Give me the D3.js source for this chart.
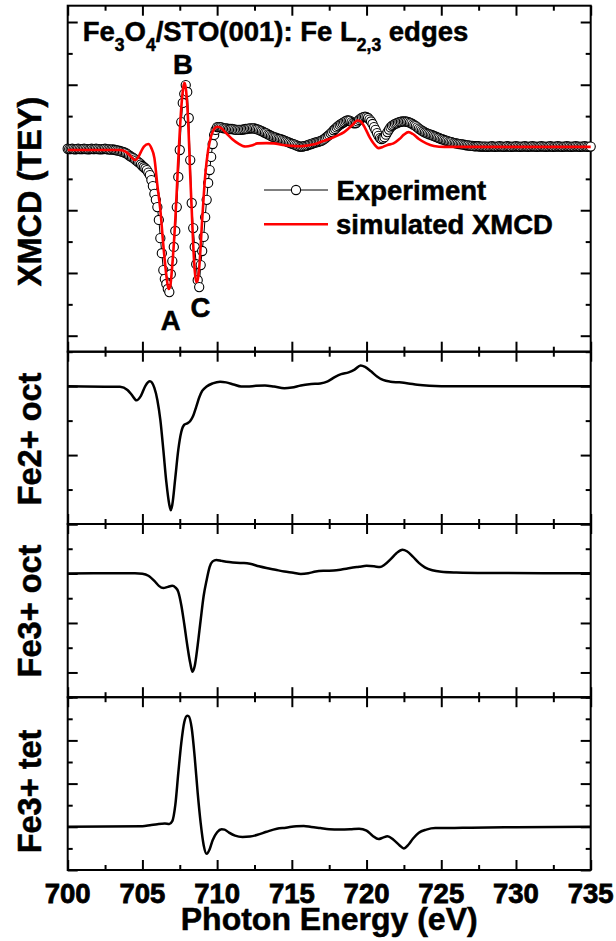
<!DOCTYPE html>
<html>
<head>
<meta charset="utf-8">
<script src="https://cdn.jsdelivr.net/npm/d3@7"></script>
<style>
  body { margin: 0; background: #fff; }
  text { font-family: "Liberation Sans", Arial, Helvetica, sans-serif; font-weight: bold; fill: #000;
         stroke: #000; stroke-width: 0.5px; paint-order: stroke; }
</style>
</head>
<body>
<svg id="chart" width="616" height="941"></svg>
<script>
// ---- data ----------------------------------------------------------------
const energyDomain = [700, 735];
const energyTicks = [700, 705, 710, 715, 720, 725, 730, 735];
const energyMinorTicks = [702.5, 707.5, 712.5, 717.5, 722.5, 727.5, 732.5];

// measured XMCD (TEY), one point every 0.1 eV from 700 eV
const expStart = 700;
const expStep = 0.1;
const expXMCD = [
  -0.04,-0.05,-0.05,-0.04,-0.05,-0.06,-0.05,-0.04,-0.05,-0.05,
  -0.05,-0.04,-0.05,-0.05,-0.06,-0.05,-0.04,-0.05,-0.05,-0.04,
  -0.05,-0.05,-0.06,-0.05,-0.05,-0.04,-0.05,-0.06,-0.06,-0.07,
  -0.06,-0.07,-0.08,-0.09,-0.10,-0.11,-0.13,-0.14,-0.16,-0.18,
  -0.21,-0.25,-0.28,-0.31,-0.34,-0.38,-0.42,-0.46,-0.49,-0.54,
  -0.59,-0.63,-0.67,-0.72,-0.80,-0.88,-1.04,-1.23,-1.48,-1.67,
  -1.90,-2.31,-2.89,-3.37,-3.91,-4.19,-4.35,-4.51,-4.61,-4.04,
  -3.62,-3.17,-2.66,-1.90,-0.94,-0.08,0.81,1.42,1.71,1.99,
  1.77,0.94,-0.40,-1.77,-2.57,-3.17,-3.72,-4.23,-4.45,-3.75,
  -3.30,-2.85,-2.22,-1.67,-1.13,-0.72,-0.30,0.11,0.40,0.56,
  0.65,0.65,0.65,0.64,0.62,0.61,0.61,0.60,0.59,0.59,
  0.59,0.58,0.57,0.56,0.56,0.56,0.56,0.57,0.58,0.59,
  0.59,0.60,0.61,0.61,0.61,0.61,0.59,0.58,0.56,0.54,
  0.52,0.49,0.47,0.45,0.42,0.40,0.37,0.35,0.33,0.32,
  0.30,0.28,0.27,0.26,0.24,0.22,0.20,0.18,0.16,0.14,
  0.12,0.11,0.09,0.07,0.05,0.03,0.03,0.03,0.04,0.05,
  0.06,0.08,0.10,0.11,0.13,0.15,0.16,0.17,0.19,0.20,
  0.22,0.25,0.28,0.32,0.36,0.40,0.45,0.49,0.55,0.59,
  0.64,0.68,0.72,0.75,0.78,0.81,0.84,0.86,0.86,0.85,
  0.81,0.78,0.77,0.78,0.83,0.88,0.92,0.95,0.97,0.98,
  0.97,0.94,0.89,0.83,0.75,0.65,0.56,0.46,0.37,0.30,
  0.27,0.29,0.33,0.41,0.49,0.57,0.64,0.69,0.72,0.75,
  0.77,0.79,0.81,0.82,0.83,0.83,0.83,0.82,0.81,0.79,
  0.77,0.74,0.71,0.68,0.64,0.60,0.57,0.54,0.51,0.48,
  0.46,0.44,0.42,0.41,0.39,0.37,0.35,0.33,0.31,0.29,
  0.27,0.26,0.24,0.22,0.21,0.19,0.18,0.17,0.15,0.14,
  0.13,0.12,0.11,0.11,0.10,0.09,0.08,0.07,0.07,0.06,
  0.05,0.05,0.04,0.04,0.04,0.04,0.03,0.03,0.03,0.03,
  0.03,0.02,0.03,0.03,0.04,0.03,0.02,0.03,0.03,0.04,
  0.03,0.03,0.02,0.03,0.04,0.03,0.03,0.02,0.03,0.03,
  0.04,0.03,0.03,0.02,0.03,0.03,0.04,0.03,0.02,0.03,
  0.03,0.04,0.03,0.03,0.02,0.03,0.03,0.04,0.03,0.03,
  0.02,0.03,0.03,0.04,0.03,0.02,0.03,0.03,0.04,0.03,
  0.03,0.02,0.03,0.03,0.04,0.03,0.03,0.02,0.03,0.03,
  0.04,0.03,0.03,0.02,0.03,0.03,0.04,0.03,0.02,0.03,
  0.03
];

// simulated XMCD, [energy (eV), intensity]
const simXMCD = [
  [700,-0.08],[703.5,-0.08],[703.9,-0.14],[704.2,-0.27],[704.5,-0.40],[704.7,-0.33],
  [704.9,-0.14],[705.1,0.03],[705.4,0.11],[705.6,-0.02],[705.8,-0.33],[706.0,-1.20],
  [706.2,-1.99],[706.4,-3.11],[706.6,-4.07],[706.75,-4.51],[706.85,-4.45],[707.0,-3.75],
  [707.2,-2.31],[707.4,-0.40],[707.6,1.26],[707.75,1.96],[707.82,2.06],[707.9,1.90],
  [708.0,1.36],[708.1,0.40],[708.2,-0.88],[708.3,-1.99],[708.4,-3.11],[708.5,-3.91],
  [708.6,-4.29],[708.68,-4.26],[708.8,-3.84],[709.0,-2.31],[709.2,-0.91],[709.4,-0.08],
  [709.6,0.37],[709.8,0.59],[710.0,0.66],[710.2,0.64],[710.6,0.46],[711.0,0.27],
  [711.4,0.13],[711.9,0.03],[712.3,0.06],[712.7,0.13],[713.3,0.14],[713.8,0.13],
  [714.4,0.08],[715.0,0.05],[715.5,0.04],[716.0,0.06],[716.5,0.10],[717.0,0.19],
  [717.5,0.27],[718.0,0.37],[718.5,0.49],[719.0,0.69],[719.4,0.86],[719.6,0.83],
  [719.9,0.62],[720.2,0.33],[720.5,0.11],[720.8,-0.02],[721.1,0.02],[721.4,0.08],
  [721.8,0.13],[722.2,0.27],[722.5,0.41],[722.8,0.49],[723.1,0.43],[723.5,0.27],
  [724.0,0.13],[724.5,0.05],[725.2,0.02],[726,0.02],[735,0.02]
];

// calculated site contributions, [energy (eV), intensity]
const fe2Oct = [
  [700,0],[703.5,-0.02],[704.0,-0.11],[704.3,-0.26],[704.6,-0.41],[704.9,-0.28],
  [705.2,0.01],[705.5,0.14],[705.8,-0.05],[706.0,-0.40],[706.2,-0.98],[706.4,-1.85],
  [706.6,-2.78],[706.8,-3.44],[706.9,-3.60],[707.0,-3.44],[707.2,-2.66],[707.4,-1.85],
  [707.6,-1.33],[707.8,-1.12],[708.0,-1.08],[708.2,-1.01],[708.4,-0.86],[708.6,-0.60],
  [708.8,-0.33],[709.0,-0.14],[709.3,-0.01],[709.7,0.08],[710.2,0.13],[710.6,0.11],
  [711.1,0.05],[711.6,-0.01],[712.0,-0.01],[712.6,0.01],[713.2,0.02],[713.8,-0.01],
  [714.5,-0.06],[715.0,-0.04],[715.6,0.02],[716.3,0.06],[716.9,0.08],[717.4,0.14],
  [717.9,0.27],[718.3,0.35],[718.8,0.40],[719.2,0.48],[719.6,0.60],[719.9,0.56],
  [720.3,0.43],[720.7,0.28],[721.1,0.18],[721.6,0.13],[722.2,0.11],[722.8,0.08],
  [723.4,0.04],[724.2,0.01],[725,0],[735,0]
];
const fe3Oct = [
  [700,0],[704.5,0.01],[705.0,-0.01],[705.4,-0.09],[705.8,-0.30],[706.1,-0.50],
  [706.4,-0.59],[706.7,-0.54],[707.0,-0.50],[707.2,-0.56],[707.4,-0.74],[707.6,-1.27],
  [707.8,-2.04],[708.0,-2.89],[708.2,-3.62],[708.35,-3.97],[708.5,-3.74],[708.7,-2.89],
  [708.9,-1.87],[709.1,-0.90],[709.3,-0.26],[709.5,0.27],[709.7,0.49],[709.95,0.55],
  [710.3,0.51],[710.8,0.46],[711.3,0.43],[711.8,0.42],[712.2,0.39],[712.8,0.29],
  [713.3,0.22],[713.9,0.15],[714.5,0.08],[715.1,0.03],[715.6,-0.02],[716.1,0.01],
  [716.6,0.08],[717.2,0.11],[717.8,0.12],[718.4,0.17],[718.9,0.22],[719.5,0.27],
  [720.0,0.31],[720.5,0.29],[720.9,0.26],[721.2,0.35],[721.6,0.57],[722.0,0.82],
  [722.4,0.96],[722.7,0.90],[723.1,0.68],[723.5,0.43],[723.9,0.25],[724.4,0.13],
  [725.0,0.07],[726.0,0.04],[728,0.02],[735,0.01]
];
const fe3Tet = [
  [700,0],[705.0,0.03],[705.5,0.07],[706.0,0.12],[706.5,0.15],[706.8,0.13],
  [707.0,0.26],[707.2,1.00],[707.4,2.48],[707.6,3.87],[707.8,4.84],[708.0,5.14],
  [708.1,5.12],[708.3,4.56],[708.5,3.22],[708.7,1.56],[708.9,0.17],[709.1,-0.85],
  [709.3,-1.25],[709.5,-1.04],[709.7,-0.62],[710.0,-0.25],[710.3,-0.11],[710.5,-0.13],
  [710.8,-0.27],[711.2,-0.41],[711.7,-0.47],[712.2,-0.45],[712.7,-0.37],[713.3,-0.23],
  [714.0,-0.09],[714.6,-0.04],[715.3,0.03],[715.8,0.04],[716.3,-0.01],[716.9,-0.06],
  [717.5,-0.11],[718.2,-0.12],[718.9,-0.11],[719.5,-0.09],[720.0,-0.18],[720.4,-0.41],
  [720.8,-0.57],[721.1,-0.50],[721.4,-0.44],[721.8,-0.60],[722.2,-0.85],[722.5,-1.00],
  [722.8,-0.83],[723.1,-0.55],[723.5,-0.27],[724.0,-0.13],[724.6,-0.06],[725.5,-0.06],
  [727,-0.04],[730,-0.02],[735,0]
];

const panelTitles = ["XMCD (TEY)", "Fe2+ oct", "Fe3+ oct", "Fe3+ tet"];
const legendLabels = ["Experiment", "simulated XMCD"];
const peakNames = ["A", "B", "C"];

// ---- layout --------------------------------------------------------------
const svg = d3.select("#chart");
const left = 67.7, right = 590.7;
const x = d3.scaleLinear().domain(energyDomain).range([left, right]);

const panels = [
  { y0: 5.7,   y1: 351.7, dom: [-6.51, 4.52], titleY: 191.5 },
  { y0: 351.7, y1: 524.0, dom: [-4, 1],       titleY: 439 },
  { y0: 524.0, y1: 697.2, dom: [-5, 2],       titleY: 611 },
  { y0: 697.2, y1: 870.0, dom: [-2, 6],       titleY: 791.5 }
];
panels.forEach(p => { p.y = d3.scaleLinear().domain(p.dom).range([p.y1, p.y0]); });

const FS = 27.5;

function styleAxis(g) {
  g.select(".domain").remove();
  g.selectAll(".tick line").attr("stroke", "#000").attr("stroke-width", 2);
  g.selectAll(".tick text").remove();
}

panels.forEach((p, i) => {
  const g = svg.append("g");

  // x ticks on bottom and top edges, pointing inward
  [[energyTicks, 10], [energyMinorTicks, 5]].forEach(([vals, len]) => {
    g.append("g").attr("transform", `translate(0,${p.y1})`)
      .call(d3.axisBottom(x).tickValues(vals).tickSizeInner(-len).tickSizeOuter(0))
      .call(styleAxis);
    g.append("g").attr("transform", `translate(0,${p.y0})`)
      .call(d3.axisTop(x).tickValues(vals).tickSizeInner(-len).tickSizeOuter(0))
      .call(styleAxis);
  });

  // y ticks on both sides, every unit, long on even values
  const yt = d3.range(Math.ceil(p.dom[0]), Math.floor(p.dom[1]) + 1);
  const yMajor = yt.filter(v => v % 2 === 0), yMinor = yt.filter(v => v % 2 !== 0);
  [[yMajor, 10], [yMinor, 5]].forEach(([vals, len]) => {
    g.append("g").attr("transform", `translate(${left},0)`)
      .call(d3.axisLeft(p.y).tickValues(vals).tickSizeInner(-len).tickSizeOuter(0))
      .call(styleAxis);
    g.append("g").attr("transform", `translate(${right},0)`)
      .call(d3.axisRight(p.y).tickValues(vals).tickSizeInner(-len).tickSizeOuter(0))
      .call(styleAxis);
  });

  // frame
  g.append("rect").attr("x", left).attr("y", p.y0)
    .attr("width", right - left).attr("height", p.y1 - p.y0)
    .attr("fill", "none").attr("stroke", "#000").attr("stroke-width", 2);

  // panel title
  svg.append("text")
    .attr("transform", `translate(41,${p.titleY}) rotate(-90)`)
    .attr("text-anchor", "middle")
    .style("font-size", "32.5px")
    .text(panelTitles[i]);
});

// energy tick labels under the lowest panel
const lastPanel = panels[panels.length - 1];
svg.append("g").selectAll("text").data(energyTicks).join("text")
  .attr("x", d => x(d)).attr("y", lastPanel.y1 + 33)
  .attr("text-anchor", "middle").style("font-size", FS + "px")
  .style("stroke-width", "0.8px")
  .text(d3.format("d"));

// ---- top panel: experiment + simulation -----------------------------------
const P0 = panels[0];
const expPoints = expXMCD.map((v, k) => [expStart + k * expStep, v]);

const linear = d3.line().x(d => x(d[0])).y(d => P0.y(d[1]));
svg.append("path").datum(expPoints).attr("d", linear)
  .attr("fill", "none").attr("stroke", "#000").attr("stroke-width", 1);
svg.append("g").selectAll("circle").data(expPoints).join("circle")
  .attr("cx", d => x(d[0])).attr("cy", d => P0.y(d[1])).attr("r", 4.6)
  .attr("fill", "#fff").attr("stroke", "#000").attr("stroke-width", 1.1);

const smoothTop = d3.line().x(d => x(d[0])).y(d => P0.y(d[1])).curve(d3.curveMonotoneX);
svg.append("path").datum(simXMCD).attr("d", smoothTop)
  .attr("fill", "none").attr("stroke", "#ff0000").attr("stroke-width", 2.6)
  .attr("stroke-linejoin", "round");

// peak markers
const peakPos = { A: [706.9, -5.82], B: [707.72, 2.34], C: [708.89, -5.40] };
peakNames.forEach(n => {
  svg.append("text").attr("x", x(peakPos[n][0])).attr("y", P0.y(peakPos[n][1]))
    .attr("text-anchor", "middle").style("font-size", FS + "px").text(n);
});

// title with subscripts
const title = svg.append("text").attr("x", 82.7).attr("y", 40.7).style("font-size", FS + "px");
[["Fe", 0], ["3", 1], ["O", 0], ["4", 1], ["/STO(001): Fe L", 0], ["2,3", 1], [" edges", 0]]
  .reduce((prevSub, [t, sub]) => {
    const dy = sub && !prevSub ? 10 : (!sub && prevSub ? -10 : 0);
    title.append("tspan").attr("dy", dy).style("font-size", sub ? "17.5px" : FS + "px").text(t);
    return sub;
  }, 0);

// legend
const lg = svg.append("g");
lg.append("line").attr("x1", 264).attr("x2", 328).attr("y1", 190).attr("y2", 190)
  .attr("stroke", "#000").attr("stroke-width", 1);
lg.append("circle").attr("cx", 296).attr("cy", 190).attr("r", 4.6)
  .attr("fill", "#fff").attr("stroke", "#000").attr("stroke-width", 1.1);
lg.append("text").attr("x", 336.5).attr("y", 200).style("font-size", FS + "px").text(legendLabels[0]);
lg.append("line").attr("x1", 264).attr("x2", 328).attr("y1", 224.3).attr("y2", 224.3)
  .attr("stroke", "#ff0000").attr("stroke-width", 2.6);
lg.append("text").attr("x", 336).attr("y", 234).style("font-size", FS + "px").text(legendLabels[1]);

// ---- component panels ------------------------------------------------------
[fe2Oct, fe3Oct, fe3Tet].forEach((series, k) => {
  const p = panels[k + 1];
  const ln = d3.line().x(d => x(d[0])).y(d => p.y(d[1])).curve(d3.curveMonotoneX);
  svg.append("path").datum(series).attr("d", ln)
    .attr("fill", "none").attr("stroke", "#000").attr("stroke-width", 2.5)
    .attr("stroke-linejoin", "round");
});

// x-axis title
svg.append("text").attr("x", (left + right) / 2).attr("y", 930)
  .attr("text-anchor", "middle").style("font-size", "32px").text("Photon Energy (eV)");
</script>
</body>
</html>
